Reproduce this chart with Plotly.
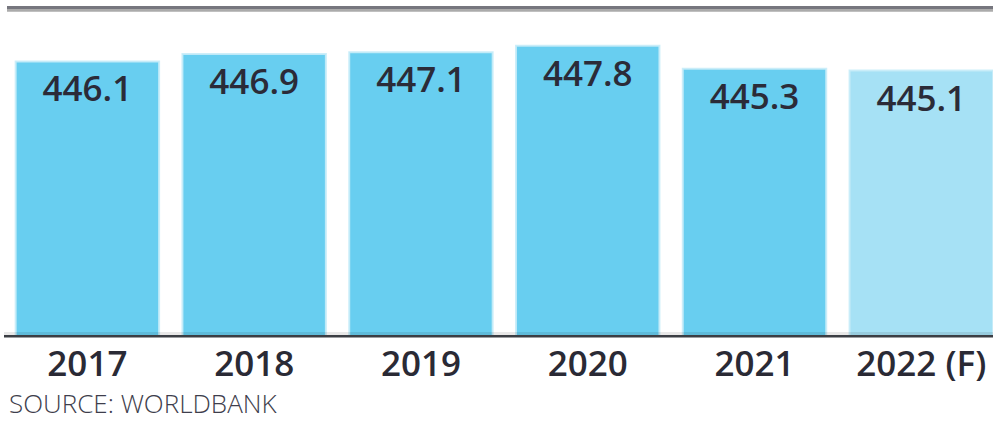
import plotly.graph_objects as go

years = ["2017", "2018", "2019", "2020", "2021", "2022 (F)"]
values = [446.1, 446.9, 447.1, 447.8, 445.3, 445.1]
bar_colors = ["#68cef0", "#68cef0", "#68cef0", "#68cef0", "#68cef0", "#a6e1f5"]
source_note = "SOURCE: WORLDBANK"

W, H = 993, 423
M_L, M_R, M_T, M_B = 4, 0, 12, 88
plot_h = H - M_T - M_B


def py(pix):
    """Convert a pixel row (from top of the page) into paper y coordinates."""
    return (H - M_B - pix) / plot_h


fig = go.Figure(
    go.Bar(
        x=years,
        y=values,
        marker=dict(color=bar_colors, line=dict(color="rgba(200,236,248,0.9)", width=2)),
        text=[f"{v:.1f}" for v in values],
        textposition="inside",
        insidetextanchor="end",
        textangle=0,
        textfont=dict(family="Open Sans", size=35, color="#2b2b38", weight=600),
        width=0.86,
        cliponaxis=False,
    )
)

shapes = [
    # double rule along the top
    dict(type="rect", xref="paper", yref="paper", x0=3 / 989, x1=1.0,
         y0=py(9), y1=py(6), fillcolor="#76767e", line=dict(width=0), layer="above"),
    dict(type="rect", xref="paper", yref="paper", x0=3 / 989, x1=1.0,
         y0=py(11.7), y1=py(9), fillcolor="#ababab", line=dict(width=0), layer="above"),
    # baseline
    dict(type="rect", xref="paper", yref="paper", x0=0, x1=1.0,
         y0=py(335), y1=py(332), fillcolor="rgba(0,0,0,0.09)", line=dict(width=0), layer="above"),
    dict(type="rect", xref="paper", yref="paper", x0=0, x1=1.0,
         y0=py(337.5), y1=py(335), fillcolor="#3b3e44", line=dict(width=0), layer="above"),
]

fig.update_layout(
    width=W,
    height=H,
    margin=dict(l=M_L, r=M_R, t=M_T, b=M_B, pad=0),
    paper_bgcolor="white",
    plot_bgcolor="white",
    showlegend=False,
    bargap=0.14,
    shapes=shapes,
    xaxis=dict(
        range=[-0.5, 5.43],
        showgrid=False,
        zeroline=False,
        showline=False,
        ticks="",
        tickfont=dict(family="Open Sans", size=35, color="#2a2a35", weight=600),
        ticklabelstandoff=5,
    ),
    yaxis=dict(
        range=[416.2, 451.5],
        visible=False,
    ),
    annotations=[
        dict(
            text=source_note,
            xref="paper", yref="paper",
            x=3 / 989, y=py(423),
            xanchor="left", yanchor="bottom",
            showarrow=False,
            font=dict(family="Open Sans", size=26, color="#3e3e4c", weight=300),
        )
    ],
)

fig.write_html("out.html")
